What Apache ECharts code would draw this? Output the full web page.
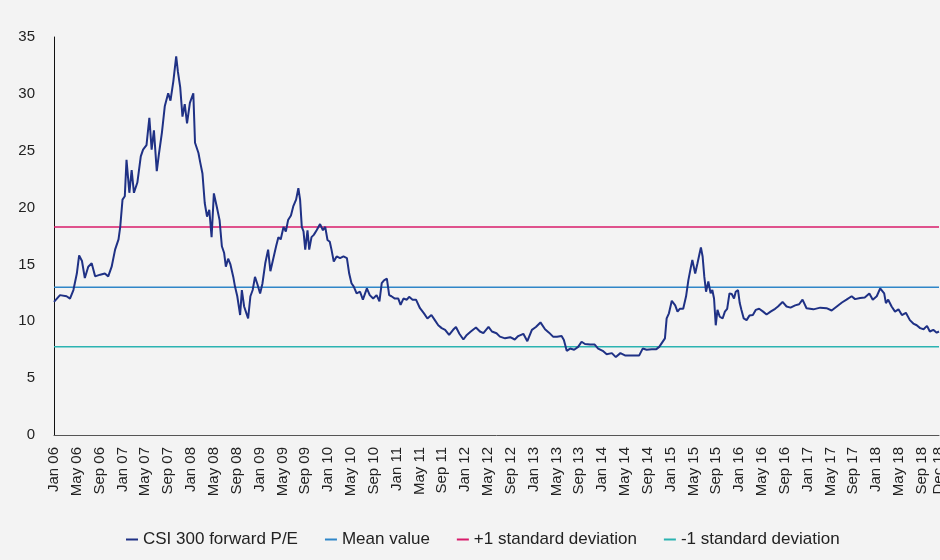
<!DOCTYPE html>
<html>
<head>
<meta charset="utf-8">
<script src="https://cdn.jsdelivr.net/npm/echarts@6/dist/echarts.min.js"></script>
<style>
  html, body { margin: 0; padding: 0; background: #f3f3f3; }
  #chart { width: 940px; height: 560px; }
</style>
</head>
<body>
<div id="chart"></div>
<script>
// months counted from Jan 06 (0) to Dec 18 (155)
var monthNames = ['Jan', 'Feb', 'Mar', 'Apr', 'May', 'Jun', 'Jul', 'Aug', 'Sep', 'Oct', 'Nov', 'Dec'];

var months = [
    0, 1.05, 2.2, 2.8, 3.4, 4.0, 4.4, 4.9, 5.4, 6.0, 6.6, 7.2, 8.1, 8.9, 9.5, 10.1, 10.7, 11.3, 11.6,
    12.0, 12.4, 12.7, 13.2, 13.6, 14.0, 14.6, 15.2, 15.6, 16.2, 16.7, 17.1, 17.5, 18.0, 18.4, 18.9,
    19.4, 20.0, 20.4, 20.9, 21.4, 21.7, 22.1, 22.5, 22.9, 23.3, 23.8, 24.4, 24.7, 25.3, 25.6,
    26.0, 26.4, 26.8, 27.2, 27.6, 28.0, 28.5, 29.0, 29.4, 29.8, 30.1, 30.5, 30.9, 31.4, 31.7,
    32.1, 32.6, 32.9, 33.3, 33.7, 34.0, 34.4, 34.8, 35.2, 35.6, 36.1, 36.5, 37.0, 37.5, 37.9,
    38.4, 38.9, 39.3, 39.7, 40.2, 40.6, 41.0, 41.5, 41.9, 42.4, 42.8, 43.1, 43.4, 43.7, 44.0,
    44.4, 44.7, 45.1, 45.5, 46.0, 46.6, 47.1, 47.5, 47.9, 48.3, 48.6, 49.0, 49.5, 50.1, 50.7,
    51.3, 51.7, 52.1, 52.5, 53.0, 53.6, 54.1, 54.8, 55.3, 55.9, 56.5, 57.0, 57.4, 57.8, 58.3,
    58.7, 59.1, 59.7, 60.3, 60.7, 61.2, 61.8, 62.2, 62.8, 63.4, 64.1, 64.8, 65.4, 66.1, 66.7,
    67.3, 67.9, 68.5, 69.2, 69.9, 70.4, 71.0, 71.7, 72.3, 73.0, 73.9, 74.6, 75.2, 76.1, 76.7,
    77.5, 78.1, 79.0, 79.9, 80.7, 81.3, 82.2, 82.9, 83.7, 84.4, 85.2, 86.0, 86.7, 87.4, 88.1,
    88.9, 89.3, 89.8, 90.4, 91.1, 91.8, 92.4, 93.0, 93.9, 94.7, 95.3, 96.1, 96.8, 97.7, 98.4,
    99.2, 100.0, 100.9, 101.7, 102.5, 103.1, 103.8, 104.7, 105.5, 106.0, 107.0, 107.3, 107.7,
    108.2, 108.8, 109.2, 109.6, 110.2, 110.7, 111.1, 111.5, 111.8, 112.3, 112.7, 113.0, 113.3,
    113.6, 113.9, 114.2, 114.6, 115.0, 115.3, 115.6, 115.9, 116.2, 116.6, 117.1, 117.5, 117.9,
    118.3, 118.7, 119.1, 119.4, 119.8, 120.1, 120.4, 120.8, 121.3, 121.8, 122.4, 122.9, 123.5,
    124.2, 124.8, 125.5, 126.3, 126.8, 127.6, 128.3, 129.0, 129.8, 130.5, 131.1, 131.8, 133.0,
    134.2, 135.3, 136.2, 137.1, 138.0, 138.8, 139.7, 140.3, 141.2, 142.0, 142.8, 143.4, 144.1,
    144.7, 145.0, 145.4, 145.7, 146.1, 146.7, 147.3, 147.9, 148.5, 149.2, 149.9, 150.5, 151.1,
    151.7, 152.3, 152.9, 153.4, 154.0, 154.6, 155.0
];

var pe = [
    11.7, 12.3, 12.2, 12.0, 12.75, 14.2, 15.8, 15.3, 13.8, 14.8, 15.1, 13.95, 14.1, 14.2, 13.95, 14.8, 16.3, 17.2, 18.3,
    20.7, 21.0, 24.2, 21.3, 23.3, 21.3, 22.2, 24.5, 25.1, 25.5, 27.9, 25.1, 26.8, 23.2, 24.8, 26.6,
    28.9, 30.05, 29.4, 31.1, 33.3, 31.95, 30.6, 28.0, 29.1, 27.4, 29.2, 30.05, 25.7, 24.8, 24.0,
    23.0, 20.4, 19.2, 19.8, 17.4, 21.25, 20.1, 18.9, 16.6, 16.0, 14.8, 15.5, 15.0, 13.9, 13.05,
    12.2, 10.55, 12.75, 11.3, 10.7, 10.25, 12.2, 12.75, 13.9, 13.3, 12.45, 13.3, 15.1, 16.3, 14.4,
    15.5, 16.6, 17.4, 17.2, 18.3, 17.9, 18.9, 19.3, 20.1, 20.7, 21.7, 20.7, 18.3, 17.9, 16.3,
    18.0, 16.3, 17.4, 17.6, 18.0, 18.55, 18.0, 18.3, 17.15, 17.0, 16.3, 15.25, 15.7, 15.55, 15.7,
    15.55, 14.2, 13.35, 13.05, 12.45, 12.6, 11.9, 12.9, 12.3, 12.0, 12.3, 11.75, 13.35, 13.6, 13.75,
    12.3, 12.2, 12.0, 12.0, 11.45, 12.0, 11.9, 12.15, 11.9, 11.9, 11.15, 10.7, 10.25, 10.55, 10.1,
    9.65, 9.4, 9.25, 8.8, 9.25, 9.5, 8.9, 8.4, 8.8, 9.1, 9.45, 9.1, 8.95, 9.5, 9.1,
    8.95, 8.65, 8.5, 8.6, 8.4, 8.7, 8.9, 8.25, 9.25, 9.5, 9.9, 9.3, 9.0, 8.65, 8.65,
    8.7, 8.35, 7.4, 7.6, 7.5, 7.75, 8.2, 8.0, 7.95, 7.95, 7.6, 7.4, 7.1, 7.2, 6.85,
    7.2, 7.0, 7.0, 7.0, 7.0, 7.6, 7.5, 7.55, 7.55, 7.75, 8.5, 10.25, 10.7,
    11.8, 11.4, 10.85, 11.1, 11.1, 12.2, 13.6, 14.65, 15.4, 14.2, 15.1, 15.8, 16.5,
    15.7, 13.9, 12.6, 13.5, 12.45, 12.75, 12.0, 9.65, 11.0, 10.4, 10.25, 10.85, 11.1,
    12.45, 12.4, 12.0, 12.6, 12.75, 11.6, 11.0, 10.25, 10.1, 10.5, 10.55, 11.0, 11.1,
    10.85, 10.6, 10.85, 11.1, 11.3, 11.7, 11.3, 11.2, 11.4, 11.5, 11.9, 11.15, 11.05,
    11.2, 11.15, 10.95, 11.3, 11.65, 11.9, 12.2, 11.95, 12.05, 12.1, 12.45, 11.9, 12.2,
    12.9, 13.05, 12.45, 11.6, 11.9, 11.3, 10.85, 11.05, 10.55, 10.75, 10.1, 9.8, 9.65,
    9.4, 9.3, 9.6, 9.1, 9.25, 9.0, 9.1
];

var meanValue = 13.0;
var plusOneStd = 18.3;
var minusOneStd = 7.75;

var firstMonth = 0;
var lastMonth = 155;

var peData = months.map(function (m, i) { return [m, pe[i]]; });

function flatLine(v) {
    return [[firstMonth, v], [lastMonth, v]];
}

var myChart = echarts.init(document.getElementById('chart'));
var font = 'Liberation Sans, Arial, sans-serif';
var option = {
    backgroundColor: '#f3f3f3',
    animation: false,
    grid: {
        left: 54,
        right: 1,
        top: 37,
        bottom: 125,
        containLabel: false,
        outerBoundsMode: 'none'
    },
    legend: {
        top: 526,
        left: 121,
        icon: 'rect',
        itemWidth: 12,
        itemHeight: 2,
        itemGap: 27,
        textStyle: {
            fontFamily: font,
            fontSize: 17,
            color: '#222'
        },
        data: ['CSI 300 forward P/E', 'Mean value', '+1 standard deviation', '-1 standard deviation']
    },
    xAxis: {
        type: 'value',
        min: firstMonth,
        max: lastMonth,
        interval: 4,
        splitLine: { show: false },
        axisTick: { show: false },
        axisLine: {
            onZero: false,
            lineStyle: { color: '#555', width: 1 }
        },
        axisLabel: {
            rotate: 90,
            margin: 12,
            showMaxLabel: true,
            showMinLabel: true,
            fontFamily: font,
            fontSize: 15,
            color: '#222',
            formatter: function (v) {
                var yy = 6 + Math.floor(v / 12);
                return monthNames[v % 12] + ' ' + (yy < 10 ? '0' + yy : yy);
            }
        }
    },
    yAxis: {
        type: 'value',
        min: 0,
        max: 35,
        interval: 5,
        splitLine: { show: false },
        axisTick: { show: false },
        axisLine: {
            show: true,
            lineStyle: { color: '#111', width: 1 }
        },
        axisLabel: {
            margin: 19,
            fontFamily: font,
            fontSize: 15,
            color: '#222'
        }
    },
    series: [
        {
            name: 'CSI 300 forward P/E',
            type: 'line',
            showSymbol: false,
            symbol: 'none',
            data: peData,
            lineStyle: { color: '#1f3185', width: 2 },
            itemStyle: { color: '#1f3185' },
            z: 5
        },
        {
            name: 'Mean value',
            type: 'line',
            symbol: 'none',
            data: flatLine(meanValue),
            lineStyle: { color: '#2f86c8', width: 1.5 },
            itemStyle: { color: '#2f86c8' }
        },
        {
            name: '+1 standard deviation',
            type: 'line',
            symbol: 'none',
            data: flatLine(plusOneStd),
            lineStyle: { color: '#d81b6a', width: 1.5 },
            itemStyle: { color: '#d81b6a' }
        },
        {
            name: '-1 standard deviation',
            type: 'line',
            symbol: 'none',
            data: flatLine(minusOneStd),
            lineStyle: { color: '#2bb3b1', width: 1.5 },
            itemStyle: { color: '#2bb3b1' }
        }
    ]
};
myChart.setOption(option);
</script>
</body>
</html>
